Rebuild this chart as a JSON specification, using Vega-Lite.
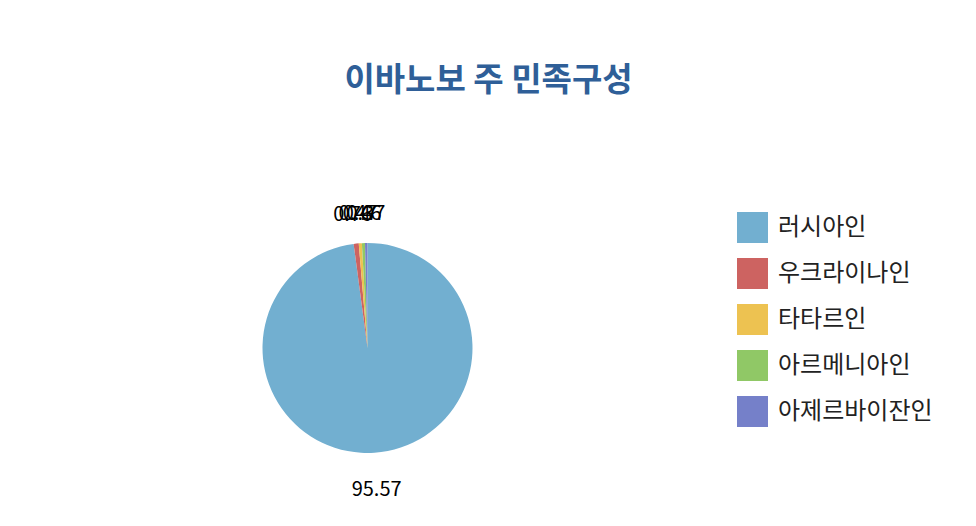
{
  "$schema": "https://vega.github.io/schema/vega-lite/v6.json",
  "autosize": {"type": "none"},
  "width": 735,
  "height": 356,
  "padding": {"left": 0, "top": 170, "right": 241, "bottom": 0},
  "background": "white",
  "title": {
    "text": "이바노보 주 민족구성",
    "font": "Noto Sans CJK KR",
    "fontSize": 33,
    "fontWeight": "bold",
    "color": "#2F5F98",
    "anchor": "middle",
    "dx": 121,
    "offset": 72
  },
  "data": {
    "values": [
      {"민족": "러시아인", "비율": 95.57},
      {"민족": "우크라이나인", "비율": 0.76},
      {"민족": "타타르인", "비율": 0.47},
      {"민족": "아르메니아인", "비율": 0.46},
      {"민족": "아제르바이잔인", "비율": 0.37}
    ]
  },
  "encoding": {
    "theta": {"field": "비율", "type": "quantitative", "stack": true},
    "order": {"field": "비율", "type": "quantitative", "sort": "descending"},
    "color": {
      "field": "민족",
      "type": "nominal",
      "sort": null,
      "scale": {
        "domain": ["러시아인", "우크라이나인", "타타르인", "아르메니아인", "아제르바이잔인"],
        "range": ["#72AFD0", "#CD6361", "#EDC251", "#90C866", "#7580C9"]
      },
      "legend": {
        "title": null,
        "orient": "none",
        "legendX": 737,
        "legendY": 42,
        "symbolType": "square",
        "symbolSize": 961,
        "symbolStrokeWidth": 0,
        "symbolOpacity": 1,
        "labelFont": "Noto Sans CJK KR",
        "labelFontSize": 24,
        "labelColor": "#222222",
        "labelOffset": 10,
        "rowPadding": 15
      }
    }
  },
  "layer": [
    {"mark": {"type": "arc", "outerRadius": 105}},
    {
      "mark": {"type": "text", "radius": 138, "dy": 4, "font": "Noto Sans CJK KR", "fontSize": 20, "color": "black"},
      "encoding": {"text": {"field": "비율", "type": "quantitative", "format": ".2~f"}, "color": {"value": "black"}}
    }
  ],
  "config": {"view": {"stroke": null}}
}
